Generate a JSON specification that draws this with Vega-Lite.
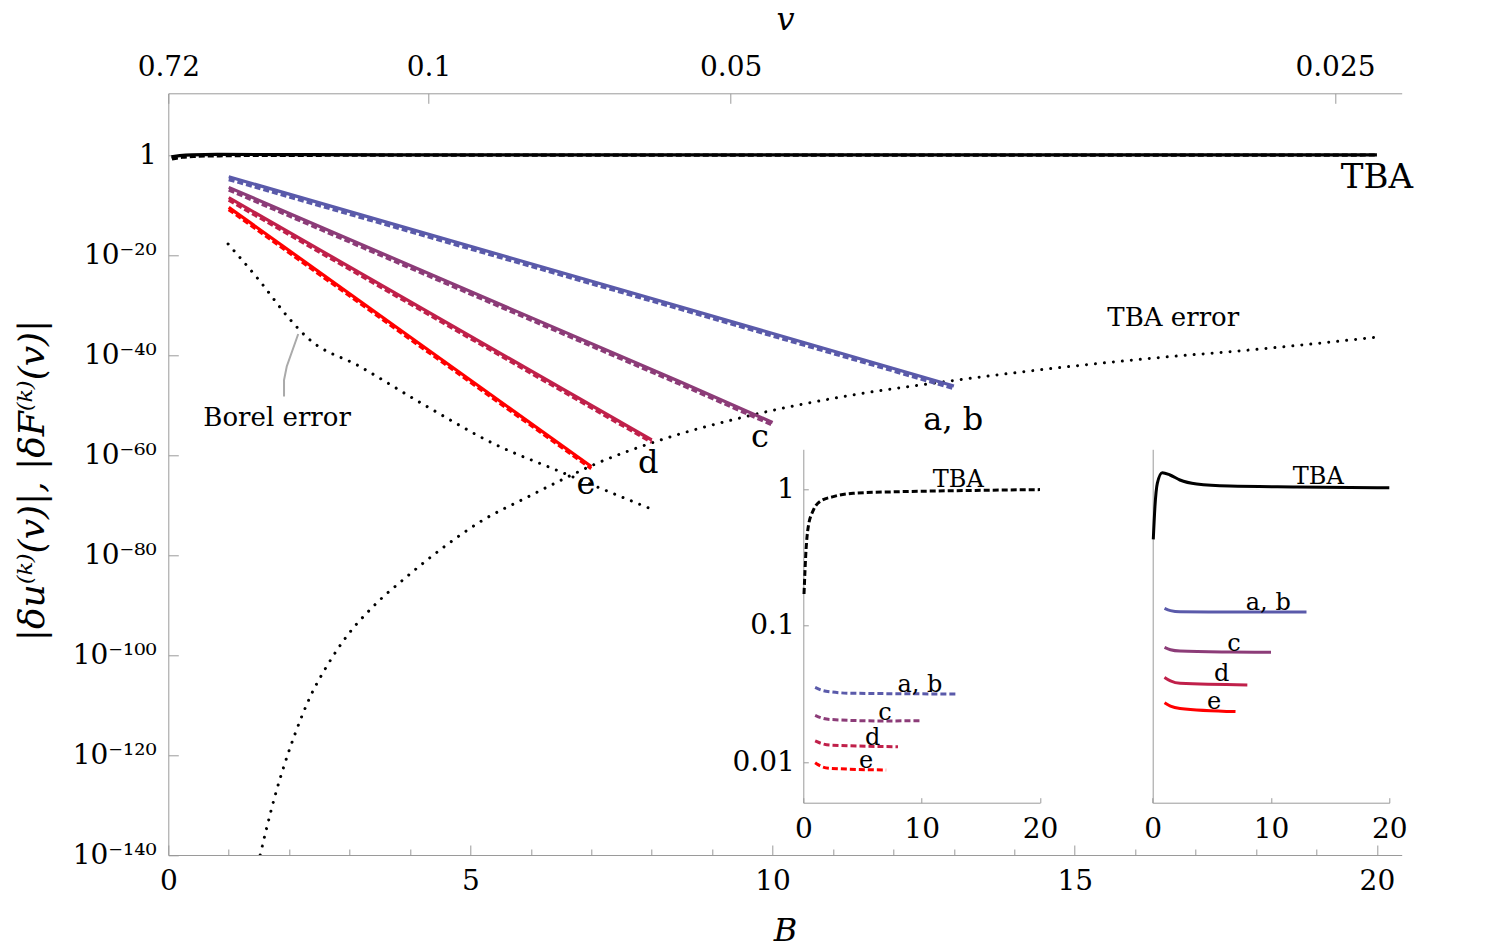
{
  "$schema": "https://vega.github.io/schema/vega-lite/v6.json",
  "width": 1233.4,
  "height": 761.7,
  "autosize": {"type": "none"},
  "padding": {"left": 168.3, "top": 93.3, "right": 93.3, "bottom": 95},
  "background": "white",
  "config": {
    "view": {"stroke": null},
    "font": "DejaVu Serif",
    "axis": {
      "grid": false,
      "labelFont": "DejaVu Serif",
      "titleFont": "DejaVu Serif",
      "labelFontSize": 28,
      "labelColor": "black",
      "domainColor": "#9a9a9a",
      "tickColor": "#9a9a9a",
      "labelFlush": false,
      "labelOverlap": false,
      "labelBound": false,
      "titleFontWeight": "normal",
      "titleColor": "black"
    },
    "text": {"font": "DejaVu Serif", "color": "black"}
  },
  "datasets": {
    "tba": [
      {"quantity": "F", "B": 0.05, "val": 0.428},
      {"quantity": "F", "B": 0.19, "val": 0.742},
      {"quantity": "F", "B": 0.39, "val": 1.10},
      {"quantity": "F", "B": 0.81, "val": 1.316},
      {"quantity": "F", "B": 1.46, "val": 1.267},
      {"quantity": "F", "B": 2.3, "val": 1.164},
      {"quantity": "F", "B": 3.72, "val": 1.088},
      {"quantity": "F", "B": 6.5, "val": 1.05},
      {"quantity": "F", "B": 12.2, "val": 1.035},
      {"quantity": "F", "B": 20.0, "val": 1.02},
      {"quantity": "u", "B": 0.06, "val": 0.17},
      {"quantity": "u", "B": 0.23, "val": 0.357},
      {"quantity": "u", "B": 0.42, "val": 0.53},
      {"quantity": "u", "B": 0.85, "val": 0.70},
      {"quantity": "u", "B": 1.41, "val": 0.81},
      {"quantity": "u", "B": 2.54, "val": 0.88},
      {"quantity": "u", "B": 4.22, "val": 0.93},
      {"quantity": "u", "B": 7.9, "val": 0.955},
      {"quantity": "u", "B": 12.1, "val": 0.97},
      {"quantity": "u", "B": 20.0, "val": 0.99}
    ],
    "main_lines": [
      {"series": "a, b", "quantity": "F", "B": 1, "val": 4.6e-5},
      {"series": "a, b", "quantity": "F", "B": 8.46, "val": 5e-31},
      {"series": "a, b", "quantity": "F", "B": 13, "val": 6.3e-47},
      {"series": "c", "quantity": "F", "B": 1, "val": 3.4e-7},
      {"series": "c", "quantity": "F", "B": 8.46, "val": 5e-46},
      {"series": "c", "quantity": "F", "B": 10, "val": 3.2e-54},
      {"series": "d", "quantity": "F", "B": 1, "val": 2.95e-9},
      {"series": "d", "quantity": "F", "B": 8, "val": 1e-57},
      {"series": "e", "quantity": "F", "B": 1, "val": 3.4e-11},
      {"series": "e", "quantity": "F", "B": 7, "val": 5e-63},
      {"series": "a, b", "quantity": "u", "B": 1, "val": 1.26e-5},
      {"series": "a, b", "quantity": "u", "B": 8.46, "val": 1.6e-31},
      {"series": "a, b", "quantity": "u", "B": 13, "val": 2e-47},
      {"series": "c", "quantity": "u", "B": 1, "val": 1.07e-7},
      {"series": "c", "quantity": "u", "B": 8.46, "val": 1.6e-46},
      {"series": "c", "quantity": "u", "B": 10, "val": 1e-54},
      {"series": "d", "quantity": "u", "B": 1, "val": 1e-9},
      {"series": "d", "quantity": "u", "B": 8, "val": 3.5e-58},
      {"series": "e", "quantity": "u", "B": 1, "val": 1.26e-11},
      {"series": "e", "quantity": "u", "B": 7, "val": 2e-63}
    ],
    "errors": [
      {"kind": "Borel", "B": 0.99, "val": 1.6e-18},
      {"kind": "Borel", "B": 1.52, "val": 5e-26},
      {"kind": "Borel", "B": 2.0, "val": 2e-33},
      {"kind": "Borel", "B": 2.3, "val": 3e-37},
      {"kind": "Borel", "B": 3.17, "val": 5e-43},
      {"kind": "Borel", "B": 4.28, "val": 5e-51},
      {"kind": "Borel", "B": 5.38, "val": 2e-58},
      {"kind": "Borel", "B": 6.48, "val": 5e-64},
      {"kind": "Borel", "B": 7.97, "val": 2e-71},
      {"kind": "TBA", "B": 1.52, "val": 1e-140},
      {"kind": "TBA", "B": 1.64, "val": 1e-134},
      {"kind": "TBA", "B": 1.77, "val": 1e-128},
      {"kind": "TBA", "B": 1.92, "val": 1e-122},
      {"kind": "TBA", "B": 2.10, "val": 2e-116},
      {"kind": "TBA", "B": 2.35, "val": 5e-109},
      {"kind": "TBA", "B": 2.62, "val": 5e-103},
      {"kind": "TBA", "B": 2.95, "val": 5e-97},
      {"kind": "TBA", "B": 3.39, "val": 5e-91},
      {"kind": "TBA", "B": 3.95, "val": 5e-85},
      {"kind": "TBA", "B": 4.55, "val": 3.2e-79},
      {"kind": "TBA", "B": 5.21, "val": 1e-73},
      {"kind": "TBA", "B": 5.93, "val": 3.2e-69},
      {"kind": "TBA", "B": 6.59, "val": 3.2e-65},
      {"kind": "TBA", "B": 7.03, "val": 1e-62},
      {"kind": "TBA", "B": 8.02, "val": 3.2e-58},
      {"kind": "TBA", "B": 9.56, "val": 5e-53},
      {"kind": "TBA", "B": 11.22, "val": 6.3e-49},
      {"kind": "TBA", "B": 12.87, "val": 5e-46},
      {"kind": "TBA", "B": 13.97, "val": 2.5e-44},
      {"kind": "TBA", "B": 15.96, "val": 1e-41},
      {"kind": "TBA", "B": 18.16, "val": 2e-39},
      {"kind": "TBA", "B": 19.95, "val": 3.2e-37}
    ],
    "leader": [
      {"i": 0, "B": 2.15, "val": 1.6e-36},
      {"i": 1, "B": 1.96, "val": 5e-43},
      {"i": 2, "B": 1.915, "val": 1e-45},
      {"i": 3, "B": 1.915, "val": 5e-49}
    ],
    "main_labels": [
      {"role": "curve", "B": 20.0, "val": 2.5e-5, "text": "TBA"},
      {"role": "error", "B": 16.63, "val": 2.5e-33, "text": "TBA error"},
      {"role": "error", "B": 1.8, "val": 2.5e-53, "text": "Borel error"},
      {"role": "series", "B": 12.99, "val": 1e-53, "text": "a, b"},
      {"role": "series", "B": 9.79, "val": 4e-57, "text": "c"},
      {"role": "series", "B": 7.94, "val": 2.5e-62, "text": "d"},
      {"role": "series", "B": 6.91, "val": 1.6e-66, "text": "e"}
    ],
    "inset_lines": [
      {"series": "a, b", "quantity": "u", "B": 1, "ratio": 0.0352},
      {"series": "a, b", "quantity": "u", "B": 1.5, "ratio": 0.0337},
      {"series": "a, b", "quantity": "u", "B": 2.26, "ratio": 0.0327},
      {"series": "a, b", "quantity": "u", "B": 4.1, "ratio": 0.0319},
      {"series": "a, b", "quantity": "u", "B": 13, "ratio": 0.0315},
      {"series": "c", "quantity": "u", "B": 1, "ratio": 0.022},
      {"series": "c", "quantity": "u", "B": 1.5, "ratio": 0.0211},
      {"series": "c", "quantity": "u", "B": 2.26, "ratio": 0.0205},
      {"series": "c", "quantity": "u", "B": 6.5, "ratio": 0.020},
      {"series": "c", "quantity": "u", "B": 10, "ratio": 0.0201},
      {"series": "d", "quantity": "u", "B": 1, "ratio": 0.01426},
      {"series": "d", "quantity": "u", "B": 1.5, "ratio": 0.0137},
      {"series": "d", "quantity": "u", "B": 2.26, "ratio": 0.0133},
      {"series": "d", "quantity": "u", "B": 8, "ratio": 0.01295},
      {"series": "e", "quantity": "u", "B": 1, "ratio": 0.00989},
      {"series": "e", "quantity": "u", "B": 1.5, "ratio": 0.0093},
      {"series": "e", "quantity": "u", "B": 2.26, "ratio": 0.0090},
      {"series": "e", "quantity": "u", "B": 7, "ratio": 0.00874},
      {"series": "a, b", "quantity": "F", "B": 1, "ratio": 0.1336},
      {"series": "a, b", "quantity": "F", "B": 1.5, "ratio": 0.1285},
      {"series": "a, b", "quantity": "F", "B": 2.31, "ratio": 0.126},
      {"series": "a, b", "quantity": "F", "B": 6.5, "ratio": 0.1256},
      {"series": "a, b", "quantity": "F", "B": 13, "ratio": 0.1256},
      {"series": "c", "quantity": "F", "B": 1, "ratio": 0.0692},
      {"series": "c", "quantity": "F", "B": 1.5, "ratio": 0.0665},
      {"series": "c", "quantity": "F", "B": 2.31, "ratio": 0.065},
      {"series": "c", "quantity": "F", "B": 6.5, "ratio": 0.064},
      {"series": "c", "quantity": "F", "B": 10, "ratio": 0.0637},
      {"series": "d", "quantity": "F", "B": 1, "ratio": 0.0417},
      {"series": "d", "quantity": "F", "B": 1.5, "ratio": 0.0393},
      {"series": "d", "quantity": "F", "B": 2.31, "ratio": 0.0377},
      {"series": "d", "quantity": "F", "B": 8, "ratio": 0.0367},
      {"series": "e", "quantity": "F", "B": 1, "ratio": 0.0272},
      {"series": "e", "quantity": "F", "B": 1.5, "ratio": 0.0257},
      {"series": "e", "quantity": "F", "B": 2.31, "ratio": 0.0247},
      {"series": "e", "quantity": "F", "B": 7, "ratio": 0.0234}
    ],
    "inset_labels": [
      {"quantity": "u", "B": 13.1, "ratio": 1.16, "text": "TBA"},
      {"quantity": "u", "B": 9.86, "ratio": 0.0367, "text": "a, b"},
      {"quantity": "u", "B": 6.9, "ratio": 0.0227, "text": "c"},
      {"quantity": "u", "B": 5.86, "ratio": 0.0151, "text": "d"},
      {"quantity": "u", "B": 5.3, "ratio": 0.0102, "text": "e"},
      {"quantity": "F", "B": 14.0, "ratio": 1.23, "text": "TBA"},
      {"quantity": "F", "B": 9.77, "ratio": 0.1455, "text": "a, b"},
      {"quantity": "F", "B": 6.87, "ratio": 0.0732, "text": "c"},
      {"quantity": "F", "B": 5.83, "ratio": 0.0439, "text": "d"},
      {"quantity": "F", "B": 5.18, "ratio": 0.0277, "text": "e"}
    ],
    "ticks": [{"B": 0}]
  },
  "layer": [
    {
      "layer": [
        {
          "data": {"name": "errors"},
          "mark": {"type": "line", "color": "black", "strokeWidth": 3, "strokeDash": [0.01, 9], "strokeCap": "round", "interpolate": "monotone", "clip": true},
          "encoding": {
            "x": {"field": "B", "type": "quantitative",
              "scale": {"domain": [0, 20.41], "nice": false, "zero": false},
              "axis": {"orient": "bottom", "values": [0, 5, 10, 15, 20], "tickSize": -10, "labelPadding": 22, "format": "d",
                "title": "B", "titleFontStyle": "italic", "titleFontSize": 32, "titleX": 616.7, "titleY": 75, "titleBaseline": "middle", "titleAnchor": null}},
            "y": {"field": "val", "type": "quantitative",
              "scale": {"type": "log", "domain": [1e-140, 2.19e12], "nice": false},
              "axis": {"orient": "left", "values": [1e-140, 1e-120, 1e-100, 1e-80, 1e-60, 1e-40, 1e-20, 1], "tickSize": -10, "labelPadding": 22,
                "labelExpr": "datum.value > 0.5 ? '1' : datum.value > 1e-21 ? '10⁻²⁰' : datum.value > 1e-41 ? '10⁻⁴⁰' : datum.value > 1e-61 ? '10⁻⁶⁰' : datum.value > 1e-81 ? '10⁻⁸⁰' : datum.value > 1e-101 ? '10⁻¹⁰⁰' : datum.value > 1e-121 ? '10⁻¹²⁰' : '10⁻¹⁴⁰'",
                "title": "|δu⁽ᵏ⁾(v)|, |δF⁽ᵏ⁾(v)|", "titleFontStyle": "italic", "titleFontSize": 36, "titleX": -136, "titleY": 386.7, "titleAngle": -90, "titleBaseline": "middle", "titleAlign": "center", "titleAnchor": null}},
            "detail": {"field": "kind"}
          }
        },
        {
          "data": {"name": "leader"},
          "mark": {"type": "line", "color": "#aaaaaa", "strokeWidth": 2},
          "encoding": {
            "x": {"field": "B", "type": "quantitative"},
            "y": {"field": "val", "type": "quantitative"},
            "order": {"field": "i"}
          }
        },
        {
          "data": {"name": "main_lines"},
          "transform": [{"filter": "datum.quantity == 'u'"}],
          "mark": {"type": "line", "strokeWidth": 3.4, "strokeDash": [6, 3]},
          "encoding": {
            "x": {"field": "B", "type": "quantitative"},
            "y": {"field": "val", "type": "quantitative"},
            "color": {"field": "series", "type": "nominal", "legend": null,
              "scale": {"domain": ["a, b", "c", "d", "e"], "range": ["#5a5aaa", "#8c3c78", "#c0204a", "#ff0000"]}}
          }
        },
        {
          "data": {"name": "main_lines"},
          "transform": [{"filter": "datum.quantity == 'F'"}],
          "mark": {"type": "line", "strokeWidth": 3.2},
          "encoding": {
            "x": {"field": "B", "type": "quantitative"},
            "y": {"field": "val", "type": "quantitative"},
            "color": {"field": "series", "type": "nominal", "legend": null}
          }
        },
        {
          "data": {"name": "tba"},
          "transform": [{"filter": "datum.quantity == 'u'"}],
          "mark": {"type": "line", "color": "black", "strokeWidth": 3.2, "strokeDash": [6, 3], "interpolate": "monotone"},
          "encoding": {
            "x": {"field": "B", "type": "quantitative"},
            "y": {"field": "val", "type": "quantitative"}
          }
        },
        {
          "data": {"name": "tba"},
          "transform": [{"filter": "datum.quantity == 'F'"}],
          "mark": {"type": "line", "color": "black", "strokeWidth": 3.2, "interpolate": "monotone"},
          "encoding": {
            "x": {"field": "B", "type": "quantitative"},
            "y": {"field": "val", "type": "quantitative"}
          }
        },
        {
          "data": {"name": "main_labels"},
          "transform": [{"filter": "datum.role == 'curve'"}],
          "mark": {"type": "text", "fontSize": 34, "baseline": "middle", "align": "center"},
          "encoding": {
            "x": {"field": "B", "type": "quantitative"},
            "y": {"field": "val", "type": "quantitative"},
            "text": {"field": "text"}
          }
        },
        {
          "data": {"name": "main_labels"},
          "transform": [{"filter": "datum.role == 'error'"}],
          "mark": {"type": "text", "fontSize": 26, "baseline": "middle", "align": "center"},
          "encoding": {
            "x": {"field": "B", "type": "quantitative"},
            "y": {"field": "val", "type": "quantitative"},
            "text": {"field": "text"}
          }
        },
        {
          "data": {"name": "main_labels"},
          "transform": [{"filter": "datum.role == 'series'"}],
          "mark": {"type": "text", "fontSize": 32, "baseline": "middle", "align": "center"},
          "encoding": {
            "x": {"field": "B", "type": "quantitative"},
            "y": {"field": "val", "type": "quantitative"},
            "text": {"field": "text"}
          }
        }
      ]
    },
    {
      "data": {"name": "ticks"},
      "mark": {"type": "rule", "opacity": 0},
      "encoding": {
        "x": {"field": "B", "type": "quantitative",
          "scale": {"domain": [0, 20.41], "nice": false, "zero": false},
          "axis": {"orient": "bottom", "values": [1, 2, 3, 4, 6, 7, 8, 9, 11, 12, 13, 14, 16, 17, 18, 19], "tickSize": -6, "labels": false, "domain": false, "title": null}}
      }
    },
    {
      "data": {"name": "ticks"},
      "mark": {"type": "rule", "opacity": 0},
      "encoding": {
        "x": {"field": "B", "type": "quantitative",
          "scale": {"domain": [0, 20.41], "nice": false, "zero": false},
          "axis": {"orient": "top", "values": [0, 4.306, 9.306, 19.306], "tickSize": -10, "labelPadding": 22,
            "labelExpr": "datum.value < 1 ? '0.72' : datum.value < 5 ? '0.1' : datum.value < 10 ? '0.05' : '0.025'",
            "title": "v", "titleFontStyle": "italic", "titleFontSize": 32, "titleX": 616.7, "titleY": -74, "titleBaseline": "middle", "titleAnchor": null}}
      }
    },
    {
      "layer": [
        {
          "data": {"name": "tba"},
          "transform": [{"filter": "datum.quantity == 'u'"}],
          "mark": {"type": "line", "color": "black", "strokeWidth": 3, "strokeDash": [6, 3], "interpolate": "monotone"},
          "encoding": {
            "x": {"field": "B", "type": "quantitative",
              "scale": {"domain": [0, 20], "nice": false, "zero": false, "range": [635, 871.7]},
              "axis": {"orient": "bottom", "offset": -52.3, "values": [0, 10, 20], "format": "d", "tickSize": -5, "labelPadding": 18, "title": null}},
            "y": {"field": "val", "type": "quantitative",
              "scale": {"type": "log", "domain": [0.005035, 1.954], "nice": false, "range": [709.4, 356]},
              "axis": {"orient": "left", "offset": -635, "values": [0.01, 0.1, 1], "tickSize": -5, "labelPadding": 14,
                "labelExpr": "datum.value > 0.5 ? '1' : datum.value > 0.05 ? '0.1' : '0.01'", "title": null}}
          }
        },
        {
          "data": {"name": "inset_lines"},
          "transform": [{"filter": "datum.quantity == 'u'"}],
          "mark": {"type": "line", "strokeWidth": 3, "strokeDash": [6, 3], "interpolate": "monotone"},
          "encoding": {
            "x": {"field": "B", "type": "quantitative"},
            "y": {"field": "ratio", "type": "quantitative"},
            "color": {"field": "series", "type": "nominal", "legend": null}
          }
        },
        {
          "mark": {"type": "rule", "color": "#9a9a9a", "strokeWidth": 1},
          "encoding": {
            "x": {"datum": 20, "type": "quantitative"},
            "y": {"datum": 1.954, "type": "quantitative"},
            "y2": {"datum": 0.005035}
          }
        },
        {
          "data": {"name": "inset_labels"},
          "transform": [{"filter": "datum.quantity == 'u'"}],
          "mark": {"type": "text", "fontSize": 24, "baseline": "middle", "align": "center"},
          "encoding": {
            "x": {"field": "B", "type": "quantitative"},
            "y": {"field": "ratio", "type": "quantitative"},
            "text": {"field": "text"}
          }
        }
      ]
    },
    {
      "layer": [
        {
          "data": {"name": "tba"},
          "transform": [{"filter": "datum.quantity == 'F'"}],
          "mark": {"type": "line", "color": "black", "strokeWidth": 3, "interpolate": "monotone"},
          "encoding": {
            "x": {"field": "B", "type": "quantitative",
              "scale": {"domain": [0, 20], "nice": false, "zero": false, "range": [984.4, 1221]},
              "axis": {"orient": "bottom", "offset": -52.3, "values": [0, 10, 20], "format": "d", "tickSize": -5, "labelPadding": 18, "title": null}},
            "y": {"field": "val", "type": "quantitative",
              "scale": {"type": "log", "domain": [0.005035, 1.954], "nice": false, "range": [709.4, 356]},
              "axis": {"orient": "left", "offset": -984.4, "values": [0.01, 0.1, 1], "ticks": false, "labels": false, "title": null}}
          }
        },
        {
          "data": {"name": "inset_lines"},
          "transform": [{"filter": "datum.quantity == 'F'"}],
          "mark": {"type": "line", "strokeWidth": 3, "interpolate": "monotone"},
          "encoding": {
            "x": {"field": "B", "type": "quantitative"},
            "y": {"field": "ratio", "type": "quantitative"},
            "color": {"field": "series", "type": "nominal", "legend": null}
          }
        },
        {
          "mark": {"type": "rule", "color": "#9a9a9a", "strokeWidth": 1},
          "encoding": {
            "x": {"datum": 20, "type": "quantitative"},
            "y": {"datum": 1.954, "type": "quantitative"},
            "y2": {"datum": 0.005035}
          }
        },
        {
          "data": {"name": "inset_labels"},
          "transform": [{"filter": "datum.quantity == 'F'"}],
          "mark": {"type": "text", "fontSize": 24, "baseline": "middle", "align": "center"},
          "encoding": {
            "x": {"field": "B", "type": "quantitative"},
            "y": {"field": "ratio", "type": "quantitative"},
            "text": {"field": "text"}
          }
        }
      ]
    }
  ],
  "resolve": {
    "scale": {"x": "independent", "y": "independent"},
    "axis": {"x": "independent", "y": "independent"}
  }
}
